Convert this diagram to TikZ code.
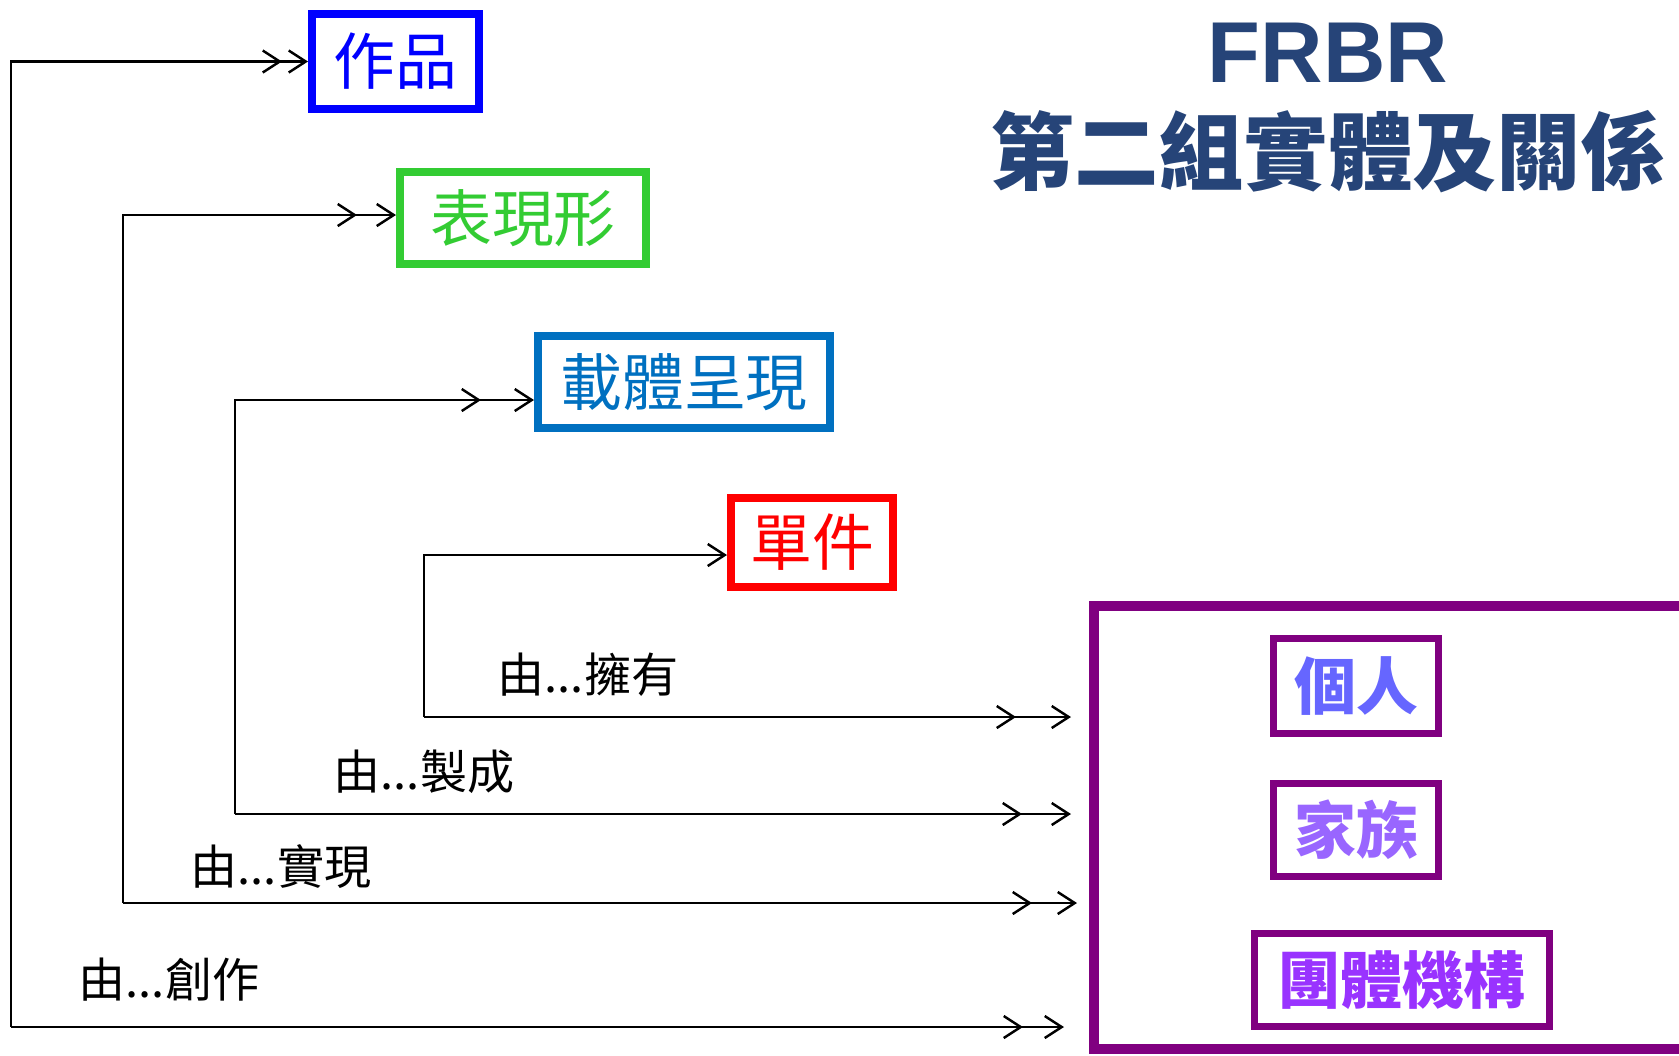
\documentclass[tikz,border=0pt]{standalone}
\usepackage{fontspec}
\usetikzlibrary{arrows.meta,decorations.markings}
\newfontfamily\cjk{Noto Sans CJK TC}
\newfontfamily\titlefont{Liberation Sans}
\definecolor{titleblue}{HTML}{264478}
\definecolor{workblue}{HTML}{0000FF}
\definecolor{exprgreen}{HTML}{33CC33}
\definecolor{manblue}{HTML}{0070C0}
\definecolor{itemred}{HTML}{FF0000}
\definecolor{grppurple}{HTML}{800080}
\definecolor{personblue}{HTML}{6666FF}
\definecolor{familyviolet}{HTML}{9966FF}
\definecolor{corpviolet}{HTML}{9933FF}

\begin{document}
\begin{tikzpicture}[x=1cm, y=-1cm,
    rel/.style={line width=0.7pt, -{Straight Barb[length=1.7mm,width=2.2mm]}},
    relx/.style={rel, postaction={decorate},
      decoration={markings, mark=at position -#1 with {\arrow{Straight Barb[length=1.7mm,width=2.2mm]}}}},
    entity/.style={draw, line width=0.08cm, inner sep=0pt, font=\cjk\fontsize{17.6}{20}\selectfont},
    agent/.style={draw=grppurple, line width=0.07cm, inner sep=0pt, font=\cjk\bfseries\fontsize{17.6}{20}\selectfont},
    lbl/.style={anchor=west, inner sep=0pt, font=\cjk\fontsize{13.4}{16}\selectfont}]
    \useasboundingbox (0,0) rectangle (16.79,10.55);

    \node[font=\titlefont\bfseries\fontsize{24.6}{26}\selectfont, text=titleblue] (frbr) at (13.28,0.53) {FRBR};
    \node[font=\cjk\bfseries\fontsize{24}{26}\selectfont, text=titleblue] (title) at (13.28,1.52) {第二組實體及關係};

    \node[entity, draw=workblue, text=workblue, minimum width=1.67cm, minimum height=0.95cm] (work) at (3.955,0.615) {作品};
    \node[entity, draw=exprgreen, text=exprgreen, minimum width=2.46cm, minimum height=0.92cm] (expr) at (5.23,2.18) {表現形};
    \node[entity, draw=manblue, text=manblue, minimum width=2.92cm, minimum height=0.92cm] (manif) at (6.84,3.82) {載體呈現};
    \node[entity, draw=itemred, text=itemred, minimum width=1.62cm, minimum height=0.89cm] (item) at (8.12,5.425) {單件};

    \node[draw=grppurple, line width=0.1cm, inner sep=0pt, minimum width=6.3cm, minimum height=4.43cm] (grp) at (14.09,8.275) {};
    \node[agent, text=personblue, minimum width=1.65cm, minimum height=0.95cm] (person) at (13.56,6.86) {個人};
    \node[agent, text=familyviolet, minimum width=1.65cm, minimum height=0.93cm] (family) at (13.56,8.30) {家族};
    \node[agent, text=corpviolet, minimum width=2.95cm, minimum height=0.93cm] (corp) at (14.02,9.80) {團體機構};

    \coordinate (a0) at (0.11,0.615); \coordinate (a1) at (0.11,10.27);
    \coordinate (b0) at (1.23,2.15);  \coordinate (b1) at (1.23,9.03);
    \coordinate (c0) at (2.35,4.00);  \coordinate (c1) at (2.35,8.14);
    \coordinate (d0) at (4.24,5.55);  \coordinate (d1) at (4.24,7.17);

    \draw[relx=0.26cm] (a1) -- (a0) -- (a0 -| work.west);
    \draw[relx=0.39cm] (b1) -- (b0) -- (b0 -| expr.west);
    \draw[relx=0.53cm] (c1) -- (c0) -- (c0 -| manif.west);
    \draw[rel] (d1) -- (d0) -- (d0 -| item.west);

    \draw[relx=0.41cm] (a1) -- ([xshift=-2.5mm]a1 -| grp.west);
    \draw[relx=0.45cm] (b1) -- ([xshift=-1.2mm]b1 -| grp.west);
    \draw[relx=0.49cm] (c1) -- ([xshift=-1.8mm]c1 -| grp.west);
    \draw[relx=0.55cm] (d1) -- ([xshift=-1.8mm]d1 -| grp.west);

    \node[lbl] (own) at (4.97,6.75) {由...擁有};
    \node[lbl] (prod) at (3.33,7.72) {由...製成};
    \node[lbl] (real) at (1.90,8.67) {由...實現};
    \node[lbl] (creat) at (0.78,9.80) {由...創作};
\end{tikzpicture}
\end{document}
